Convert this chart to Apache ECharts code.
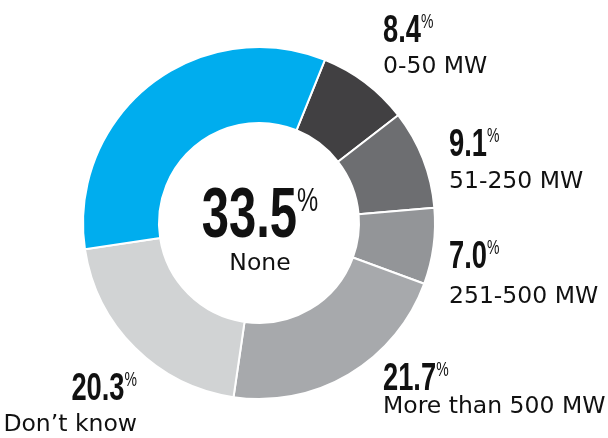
<!DOCTYPE html>
<html>
<head>
<meta charset="utf-8">
<script src="https://cdn.jsdelivr.net/npm/echarts@6/dist/echarts.min.js"></script>
<style>
  html, body { margin: 0; padding: 0; background: #fff; }
  .chart_1 { width: 608px; height: 438px; }
</style>
</head>
<body>
<div class="chart_1"></div>
<script>
  // data
  var categories = ['0-50 MW', '51-250 MW', '251-500 MW', 'More than 500 MW', 'Don\u2019t know', 'None'];
  var shares = [8.4, 9.1, 7.0, 21.7, 20.3, 33.5];
  var colors = ['#414042', '#6D6E71', '#939598', '#A7A9AC', '#D1D3D4', '#00ADEE'];

  // where the labels go: [x, top of number, top of name, align]
  var labelPos = [
    [383, 14, 57, 'left'],
    [449, 128, 172, 'left'],
    [449, 240, 287, 'left'],
    [383, 362, 397, 'left'],
    [137, 372, 415, 'right'],
    [260, 188, 254, 'center']
  ];

  var numFont = '"Liberation Sans", Arial, sans-serif';
  var nameFont = '"DejaVu Sans", sans-serif';
  var ink = '#111';

  var chart1 = echarts.init(document.querySelector('.chart_1'));

  var pieData = categories.map(function (name, i) {
    return {
      name: name,
      value: shares[i],
      itemStyle: { color: colors[i] }
    };
  });

  // big condensed numbers, squeezed horizontally
  var numbers = categories.map(function (name, i) {
    var p = labelPos[i];
    var big = i === categories.length - 1;
    return {
      type: 'text',
      x: p[0],
      y: p[1] - (big ? 3 : 2),
      scaleX: 0.7,
      silent: true,
      style: {
        text: '{n|' + shares[i].toFixed(1) + '}{p|%}',
        align: p[3],
        verticalAlign: 'top',
        rich: {
          n: { fontFamily: numFont, fontWeight: 'bold', fontSize: big ? 70 : 39, lineHeight: big ? 66 : 38, fill: ink },
          p: { fontFamily: numFont, fontSize: big ? 34 : 20, lineHeight: big ? 34 : 20, verticalAlign: 'top', fill: ink }
        }
      }
    };
  });

  var option = {
    animation: false,
    graphic: numbers,
    series: [{
      type: 'pie',
      center: [259, 223],
      radius: [100, 176],
      startAngle: 68,
      clockwise: true,
      itemStyle: {
        borderColor: '#fff',
        borderWidth: 2
      },
      labelLine: { show: false },
      label: {
        show: true,
        position: 'outside',
        overflow: 'none',
        formatter: '{b}',
        fontFamily: nameFont,
        fontSize: 23.5,
        lineHeight: 28,
        color: ink
      },
      labelLayout: function (params) {
        var p = labelPos[params.dataIndex];
        return { x: p[0], y: p[2] - 4, align: p[3], verticalAlign: 'top' };
      },
      data: pieData
    }]
  };

  chart1.setOption(option);
</script>
</body>
</html>
